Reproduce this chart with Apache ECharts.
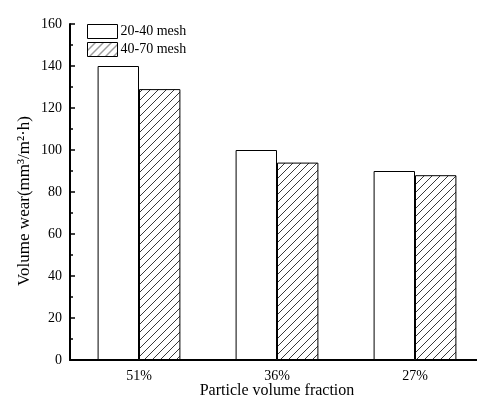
<!DOCTYPE html>
<html>
<head>
<meta charset="utf-8">
<script src="https://cdn.jsdelivr.net/npm/echarts@6/dist/echarts.min.js"></script>
<style>
  html, body { margin: 0; padding: 0; background: #fff; }
  #chart { width: 477px; height: 399px; }
</style>
</head>
<body>
<div id="chart"></div>
<script>
// 数据
const categories = ['51%', '36%', '27%'];
const mesh2040 = [140, 100, 90];
const mesh4070 = [129, 94, 88];
const seriesNames = ['20-40 mesh', '40-70 mesh'];

// 斜线填充
const makeHatch = () => {
  const c = document.createElement('canvas');
  c.width = 8;
  c.height = 8;
  const ctx = c.getContext('2d');
  ctx.fillStyle = '#fff';
  ctx.fillRect(0, 0, 8, 8);
  ctx.strokeStyle = '#222';
  ctx.lineWidth = 0.9;
  ctx.beginPath();
  ctx.moveTo(-1, 9); ctx.lineTo(9, -1);
  ctx.moveTo(-2, 2); ctx.lineTo(2, -2);
  ctx.moveTo(6, 10); ctx.lineTo(10, 6);
  ctx.stroke();
  return c;
};

const font = 'Liberation Serif';
const chart = echarts.init(document.getElementById('chart'));
chart.setOption({
  animation: false,
  textStyle: { fontFamily: font, color: '#000' },
  grid: { left: 70, right: -7, top: 24, bottom: 39, containLabel: false, outerBoundsMode: 'none' },
  legend: {
    orient: 'vertical',
    left: 87,
    top: 24,
    padding: 0,
    icon: 'rect',
    itemWidth: 30,
    itemHeight: 14,
    itemGap: 3,
    itemStyle: { borderWidth: 1, borderColor: '#000' },
    textStyle: { fontFamily: font, fontSize: 14, color: '#000', padding: [0, 0, 0, -2] },
    data: seriesNames
  },
  xAxis: {
    type: 'category',
    data: categories,
    name: 'Particle volume fraction',
    nameLocation: 'middle',
    nameMoveOverlap: false,
    nameGap: 23,
    nameTextStyle: { fontFamily: font, fontSize: 16, color: '#000', verticalAlign: 'top' },
    axisLine: { lineStyle: { color: '#000', width: 2 } },
    axisTick: { show: false },
    axisLabel: { fontFamily: font, fontSize: 14, color: '#000', margin: 9 }
  },
  yAxis: {
    type: 'value',
    min: 0,
    max: 160,
    interval: 20,
    name: 'Volume wear(mm\u00B3/m\u00B2\u00B7h)',
    nameLocation: 'middle',
    nameMoveOverlap: false,
    nameGap: 37,
    nameTextStyle: { fontFamily: font, fontSize: 17, color: '#000', padding: [0, 18, 0, 0] },
    axisLine: { show: true, lineStyle: { color: '#000', width: 2 } },
    axisTick: { show: true, inside: true, length: 5, lineStyle: { color: '#000', width: 1.5 } },
    minorTick: { show: true, splitNumber: 2, length: 3, lineStyle: { color: '#000', width: 1.5 } },
    axisLabel: { fontFamily: font, fontSize: 14, color: '#000', margin: 8 },
    splitLine: { show: false }
  },
  series: [
    {
      name: seriesNames[0],
      type: 'bar',
      data: mesh2040,
      barGap: '0%',
      barCategoryGap: '40%',
      itemStyle: { color: '#fff', borderColor: '#000', borderWidth: 1 }
    },
    {
      name: seriesNames[1],
      type: 'bar',
      data: mesh4070,
      itemStyle: { color: { image: makeHatch(), repeat: 'repeat' }, borderColor: '#000', borderWidth: 1 }
    }
  ]
});
</script>
</body>
</html>
